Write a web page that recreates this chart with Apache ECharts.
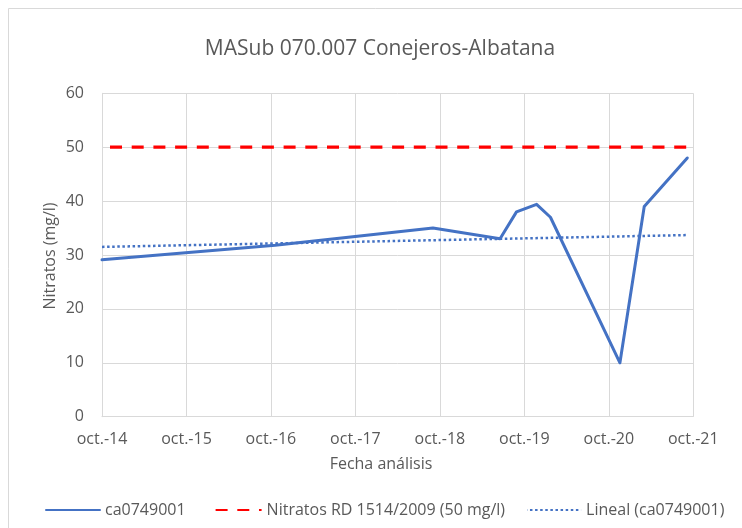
<!DOCTYPE html>
<html>
<head>
<meta charset="utf-8">
<script src="https://cdn.jsdelivr.net/npm/echarts@6/dist/echarts.min.js"></script>
<style>
  html, body { margin: 0; padding: 0; background: #fff; }
  #chart { width: 742px; height: 528px; }
</style>
</head>
<body>
<div id="chart"></div>
<script>
// Nitrate samples at station ca0749001
const sampleDates = ['2014-10-01', '2016-10-19', '2018-09-01', '2019-06-18', '2019-08-28',
                     '2019-11-23', '2020-01-22', '2020-11-18', '2021-03-03', '2021-09-05'];
const nitrateValues = [29.1, 31.8, 35.0, 33.0, 38.0, 39.4, 37.0, 10.0, 39.0, 48.0];

// Legal limit (RD 1514/2009)
const limitDates = ['2014-10-01', '2021-10-01'];
const limitValues = [50, 50];

// Linear trend of the samples (end points)
const trendDates = ['2014-10-01', '2021-09-05'];
const trendValues = [31.5, 33.7];

// Axis ticks: October of each hydrological year
const tickYears = [14, 15, 16, 17, 18, 19, 20, 21];
const yTicks = [0, 10, 20, 30, 40, 50, 60];

const FONT = '"Open Sans", "Noto Sans", sans-serif';
const TEXT = '#595959';
const GRID = '#D9D9D9';

// Position on the x axis: whole years since 1 Oct 2014, fraction within the year
function yearPos(s) {
  const [y, m, d] = s.split('-').map(Number);
  const t = Date.UTC(y, m - 1, d);
  let k = y - 2014;
  if (t < Date.UTC(y, 9, 1)) k -= 1;
  const a = Date.UTC(2014 + k, 9, 1);
  const b = Date.UTC(2015 + k, 9, 1);
  return k + (t - a) / (b - a);
}
const pairs = (ds, vs) => ds.map((d, i) => [yearPos(d), vs[i]]);

const chart = echarts.init(document.getElementById('chart'), null, { renderer: 'canvas' });
chart.setOption({
  animation: false,
  backgroundColor: '#fff',
  title: {
    text: 'MASub 070.007 Conejeros-Albatana',
    left: 375, top: 34, textAlign: 'center',
    textStyle: { fontFamily: FONT, fontSize: 21, fontWeight: 'normal', color: TEXT }
  },
  graphic: [
    { type: 'rect', shape: { x: 8.5, y: 8.5, width: 800, height: 600 },
      style: { fill: 'none', stroke: GRID, lineWidth: 1 }, silent: true },
    { type: 'text', x: 381, y: 464,
      style: { text: 'Fecha análisis', font: '16px ' + FONT, fill: TEXT, align: 'center', verticalAlign: 'middle' } },
    { type: 'text', x: 50, y: 256, rotation: Math.PI / 2,
      style: { text: 'Nitratos (mg/l)', font: '16px ' + FONT, fill: TEXT, align: 'center', verticalAlign: 'middle' } }
  ],
  grid: { left: 102, top: 93.3, right: 48.7, bottom: 111.3, containLabel: false },
  legend: {
    top: 497, left: 40,
    itemWidth: 54, itemHeight: 14, itemGap: 21,
    itemStyle: { opacity: 0 },
    textStyle: { fontFamily: FONT, fontSize: 16, color: TEXT },
    data: ['ca0749001', 'Nitratos RD 1514/2009 (50 mg/l)', 'Lineal (ca0749001)']
  },
  xAxis: {
    type: 'value', min: 0, max: tickYears.length - 1, interval: 1,
    axisLine: { show: true, lineStyle: { color: GRID, width: 1 } },
    axisTick: { show: false },
    splitLine: { show: true, lineStyle: { color: GRID, width: 1 } },
    axisLabel: {
      margin: 15, fontFamily: FONT, fontSize: 16, color: TEXT,
      formatter: v => 'oct.-' + tickYears[Math.round(v)]
    }
  },
  yAxis: {
    type: 'value', min: yTicks[0], max: yTicks[yTicks.length - 1], interval: 10,
    axisLine: { show: true, lineStyle: { color: GRID, width: 1 } },
    axisTick: { show: false },
    splitLine: { show: true, lineStyle: { color: GRID, width: 1 } },
    axisLabel: { margin: 18, fontFamily: FONT, fontSize: 16, color: TEXT }
  },
  series: [
    {
      name: 'ca0749001', type: 'line', data: pairs(sampleDates, nitrateValues),
      symbol: 'none', color: '#4472C4', z: 3,
      lineStyle: { color: '#4472C4', width: 3, join: 'round', cap: 'round' }
    },
    {
      name: 'Nitratos RD 1514/2009 (50 mg/l)', type: 'line', data: pairs(limitDates, limitValues),
      symbol: 'none', color: '#FF0000', z: 2,
      lineStyle: { color: '#FF0000', width: 3.3, type: [12, 9.7], dashOffset: -8 }
    },
    {
      name: 'Lineal (ca0749001)', type: 'line', data: pairs(trendDates, trendValues),
      symbol: 'none', color: '#4472C4', z: 2,
      lineStyle: { color: '#4472C4', width: 2.5, type: [2.5, 2.6] }
    }
  ]
});
</script>
</body>
</html>
